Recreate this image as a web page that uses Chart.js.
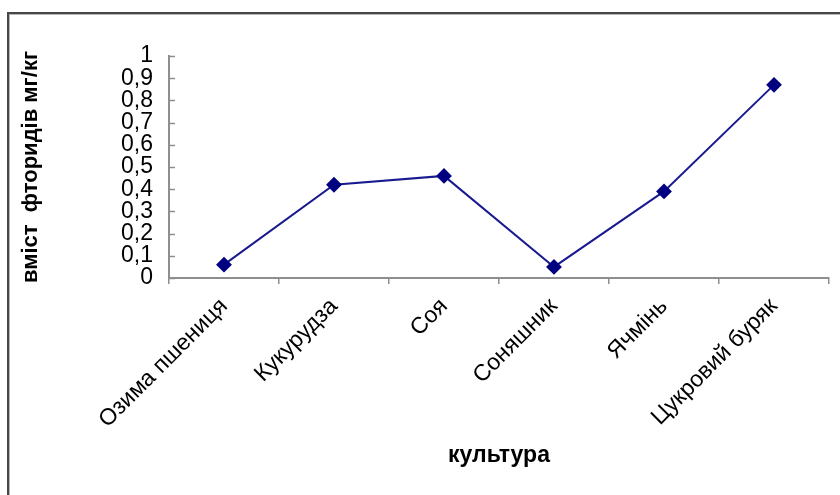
<!DOCTYPE html>
<html>
<head>
<meta charset="utf-8">
<script src="https://cdn.jsdelivr.net/npm/chart.js@4.4.1/dist/chart.umd.min.js"></script>
<style>
  html, body { margin: 0; padding: 0; background: #fff; }
  #wrap { position: relative; width: 840px; height: 495px; overflow: hidden; }
  #frame { position: absolute; left: 7px; top: 12px; width: 900px; height: 600px;
           border-top: 2px solid #474747; border-left: 2px solid #474747;
           box-shadow: inset 1px 1px 0 #b5b5b5; pointer-events: none; }
  canvas { position: absolute; left: 0; top: 0; }
</style>
</head>
<body>
<div id="wrap">
  <canvas id="c" width="840" height="495"></canvas>
  <div id="frame"></div>
</div>
<script>
// Fluoride content by crop, mg/kg
const crops = ['Озима пшениця', 'Кукурудза', 'Соя', 'Соняшник', 'Ячмінь', 'Цукровий буряк'];
const fluoride = [0.06, 0.42, 0.46, 0.05, 0.39, 0.87];
const yTickLabels = ['0', '0,1', '0,2', '0,3', '0,4', '0,5', '0,6', '0,7', '0,8', '0,9', '1'];

const AXIS_GREY = '#8e8e8e';
const NAVY = '#1a1a90';
const FONT = "'Liberation Sans', Arial, sans-serif";

// Short inward tick marks on the value axis
const innerTicks = {
  id: 'innerTicks',
  afterDatasetsDraw(chart) {
    const y = chart.scales.y;
    const ctx = chart.ctx;
    const x0 = chart.chartArea.left;
    ctx.save();
    ctx.strokeStyle = AXIS_GREY;
    ctx.lineWidth = 1.5;
    y.ticks.forEach(t => {
      const py = Math.round(y.getPixelForValue(t.value)) + 0.5;
      ctx.beginPath();
      ctx.moveTo(x0, py);
      ctx.lineTo(x0 + 6, py);
      ctx.stroke();
    });
    ctx.restore();
  }
};

new Chart(document.getElementById('c'), {
  type: 'line',
  data: {
    labels: crops,
    datasets: [{
      data: fluoride,
      borderColor: NAVY,
      backgroundColor: NAVY,
      borderWidth: 2,
      pointStyle: 'rectRot',
      pointRadius: 6.5,
      pointHoverRadius: 6.5,
      pointBackgroundColor: '#000080',
      pointBorderColor: '#000080',
      tension: 0,
      clip: false
    }]
  },
  options: {
    responsive: false,
    animation: false,
    events: [],
    layout: { padding: { top: 56, left: 17, right: 11, bottom: 0 } },
    plugins: { legend: { display: false }, tooltip: { enabled: false } },
    scales: {
      x: {
        offset: true,
        grid: { offset: true, drawOnChartArea: false, drawTicks: true, tickLength: 6,
                color: AXIS_GREY, lineWidth: 1.5 },
        border: { color: AXIS_GREY, width: 2 },
        ticks: { color: '#000', font: { family: FONT, size: 23 }, maxRotation: 45, minRotation: 45,
                 padding: 9, autoSkip: false },
        title: { display: true, text: 'культура', color: '#000',
                 font: { family: FONT, size: 23, weight: 'bold' }, padding: { top: 0, bottom: 26 } },
        afterFit(scale) { scale.height = 217; }
      },
      y: {
        min: 0, max: 1,
        ticks: { stepSize: 0.1, autoSkip: false, color: '#000', font: { family: FONT, size: 23 },
                 padding: 16, callback: (v, i) => yTickLabels[i] },
        grid: { drawOnChartArea: false, drawTicks: false },
        border: { color: AXIS_GREY, width: 2 },
        title: { display: true, text: 'вміст  фторидів мг/кг', color: '#000',
                 font: { family: FONT, size: 22, weight: 'bold' }, padding: { top: 1, bottom: 0 } },
        afterFit(scale) { scale.width = 152; }
      }
    }
  },
  plugins: [innerTicks]
});
</script>
</body>
</html>
